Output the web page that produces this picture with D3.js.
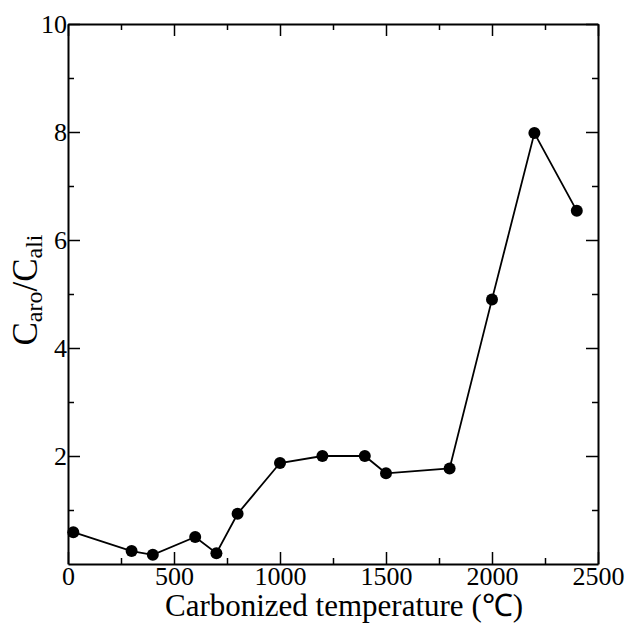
<!DOCTYPE html>
<html><head><meta charset="utf-8">
<script src="https://cdn.jsdelivr.net/npm/d3@7"></script>
<style>body{margin:0;background:#fff}svg{display:block}</style>
</head><body>
<svg id="c" width="627" height="625"></svg>
<script>
const temps = [25, 300, 400, 600, 700, 800, 1000, 1200, 1400, 1500, 1800, 2000, 2200, 2400];
const ratio = [0.59, 0.24, 0.17, 0.50, 0.20, 0.93, 1.87, 2.00, 2.00, 1.68, 1.77, 4.90, 7.98, 6.54];
const xTicks = [0, 500, 1000, 1500, 2000, 2500];
const yTicks = [2, 4, 6, 8, 10];

const font = "'Liberation Serif'";
const svg = d3.select('#c');
const L = 68, R = 598, T = 24, B = 564;
const x = d3.scaleLinear().domain([0, 2500]).range([L, R]);
const y = d3.scaleLinear().domain([0, 10]).range([B, T]);

const minorX = d3.range(250, 2500, 500);
const minorY = d3.range(1, 10, 2);

function axisStyle(g){ g.attr('font-family',null); g.select('.domain').attr('stroke','#000').attr('stroke-width',2); g.selectAll('.tick line').attr('stroke','#000').attr('stroke-width',1.5); }
function txt(g, size){ g.selectAll('text').style('font-family',font).attr('font-size',size).attr('fill','#000'); }

// bottom
svg.append('g').attr('transform',`translate(0,${B})`)
  .call(d3.axisBottom(x).tickValues(xTicks).tickSizeInner(-12).tickSizeOuter(0).tickPadding(3).tickFormat(d3.format('d')))
  .call(axisStyle).call(g=>txt(g,26));
svg.append('g').attr('transform',`translate(0,${B})`)
  .call(d3.axisBottom(x).tickValues(minorX).tickSizeInner(-6).tickSizeOuter(0).tickFormat(''))
  .call(axisStyle).call(g=>g.select('.domain').remove());
// top
svg.append('g').attr('transform',`translate(0,${T})`)
  .call(d3.axisTop(x).tickValues(xTicks).tickSizeInner(-12).tickSizeOuter(0).tickFormat(''))
  .call(axisStyle);
svg.append('g').attr('transform',`translate(0,${T})`)
  .call(d3.axisTop(x).tickValues(minorX).tickSizeInner(-6).tickSizeOuter(0).tickFormat(''))
  .call(axisStyle).call(g=>g.select('.domain').remove());
// left
svg.append('g').attr('transform',`translate(${L},0)`)
  .call(d3.axisLeft(y).tickValues(yTicks).tickSizeInner(-12).tickSizeOuter(0).tickPadding(1).tickFormat(d3.format('d')))
  .call(axisStyle).call(g=>txt(g,26));
svg.append('g').attr('transform',`translate(${L},0)`)
  .call(d3.axisLeft(y).tickValues(minorY).tickSizeInner(-6).tickSizeOuter(0).tickFormat(''))
  .call(axisStyle).call(g=>g.select('.domain').remove());
// right
svg.append('g').attr('transform',`translate(${R},0)`)
  .call(d3.axisRight(y).tickValues(yTicks).tickSizeInner(-12).tickSizeOuter(0).tickFormat(''))
  .call(axisStyle);
svg.append('g').attr('transform',`translate(${R},0)`)
  .call(d3.axisRight(y).tickValues(minorY).tickSizeInner(-6).tickSizeOuter(0).tickFormat(''))
  .call(axisStyle).call(g=>g.select('.domain').remove());

const pts = temps.map((t,i)=>[t, ratio[i]]);
svg.append('path').datum(pts)
  .attr('d', d3.line().x(d=>x(d[0])).y(d=>y(d[1])))
  .attr('fill','none').attr('stroke','#000').attr('stroke-width',1.8);
svg.append('g').selectAll('circle').data(pts).join('circle')
  .attr('cx',d=>x(d[0])).attr('cy',d=>y(d[1])).attr('r',6).attr('fill','#000');

// x label
svg.append('text').attr('x',344).attr('y',616).attr('text-anchor','middle')
  .style('font-family',font).attr('font-size',31).attr('fill','#000')
  .text('Carbonized temperature (℃)');
// y label
const yl = svg.append('text').attr('transform','translate(37,290) rotate(-90)').attr('text-anchor','middle')
  .style('font-family',font).attr('font-size',35).attr('fill','#000');
yl.append('tspan').text('C');
yl.append('tspan').attr('font-size',24).attr('dy',5).text('aro');
yl.append('tspan').attr('dy',-5).text('/C');
yl.append('tspan').attr('font-size',24).attr('dy',5).text('ali');
</script>
</body></html>
